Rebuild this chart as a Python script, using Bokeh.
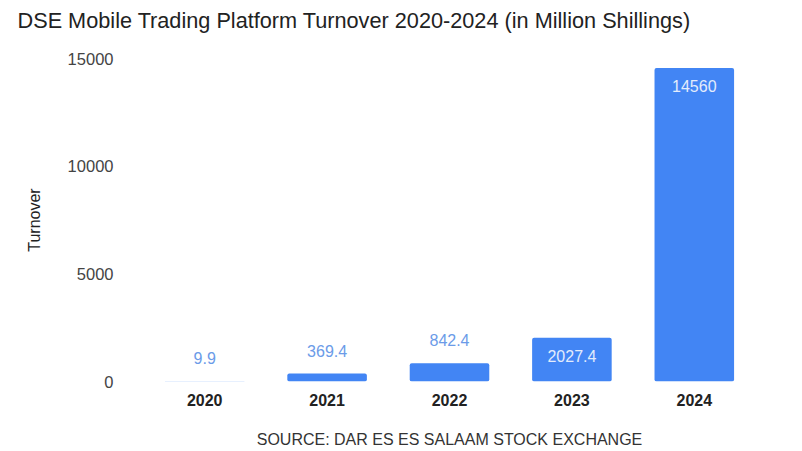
from bokeh.plotting import figure
from bokeh.models import ColumnDataSource, Title, FactorRange, Range1d, FixedTicker
from bokeh.core.properties import value
from bokeh.embed import file_html
from bokeh.resources import INLINE

years = ["2020", "2021", "2022", "2023", "2024"]
turnover = [9.9, 369.4, 842.4, 2027.4, 14560]
labels = ["9.9", "369.4", "842.4", "2027.4", "14560"]
y_ticks = [0, 5000, 10000, 15000]
title_text = "DSE Mobile Trading Platform Turnover 2020-2024 (in Million Shillings)"
source_text = "SOURCE: DAR ES ES SALAAM STOCK EXCHANGE"

FONT = "Liberation Sans"

p = figure(x_range=FactorRange(*years, range_padding=0), y_range=Range1d(y_ticks[0], y_ticks[-1]),
           width=800, height=450, output_backend="svg", toolbar_location=None,
           title_location=None,
           min_border_left=143, min_border_right=45, min_border_top=58, min_border_bottom=69)
p.outline_line_color = None
p.xgrid.grid_line_color = None
p.ygrid.grid_line_color = None

src = ColumnDataSource(dict(x=years, top=turnover, label=labels))
p.vbar(x="x", top="top", width=0.65, source=src, fill_color="#4285f4",
       line_color=None, border_radius=2)

inside = [i for i, v in enumerate(turnover) if v > 1500]
outside = [i for i, v in enumerate(turnover) if v <= 1500]
src_out = ColumnDataSource(dict(x=[years[i] for i in outside], y=[turnover[i] for i in outside],
                                label=[labels[i] for i in outside]))
src_in = ColumnDataSource(dict(x=[years[i] for i in inside], y=[turnover[i] for i in inside],
                               label=[labels[i] for i in inside]))
p.text(x="x", y="y", text="label", source=src_out, text_align="center", text_baseline="bottom",
       y_offset=-17, text_font=value(FONT), text_font_size="16px", text_color="#6b9be8")
p.text(x="x", y="y", text="label", source=src_in, text_align="center", text_baseline="top",
       y_offset=12, text_font=value(FONT), text_font_size="16px", text_color="#e3ecfc")

# axes
p.yaxis.ticker = FixedTicker(ticks=y_ticks)
p.yaxis.axis_line_color = None
p.yaxis.major_tick_line_color = None
p.yaxis.minor_tick_line_color = None
p.yaxis.major_label_standoff = 24
p.yaxis.major_label_text_font = FONT
p.yaxis.major_label_text_font_size = "16.5px"
p.yaxis.major_label_text_color = "#444444"
p.yaxis.axis_label = "Turnover"
p.yaxis.axis_label_text_font = FONT
p.yaxis.axis_label_text_font_size = "16px"
p.yaxis.axis_label_text_font_style = "normal"
p.yaxis.axis_label_text_color = "#222222"
p.yaxis.axis_label_standoff = 22

p.xaxis.axis_line_color = None
p.xaxis.major_tick_line_color = None
p.xaxis.minor_tick_line_color = None
p.xaxis.major_label_standoff = 6
p.xaxis.major_label_text_font = FONT
p.xaxis.major_label_text_font_size = "16px"
p.xaxis.major_label_text_font_style = "bold"
p.xaxis.major_label_text_color = "#222222"
# source note as the x axis label
p.xaxis.axis_label = source_text
p.xaxis.axis_label_standoff = 22
p.xaxis.axis_label_text_font = FONT
p.xaxis.axis_label_text_font_size = "16px"
p.xaxis.axis_label_text_font_style = "normal"
p.xaxis.axis_label_text_color = "#333333"

# top: blank spacer panel (next to frame) then the title (outermost)
p.add_layout(Title(text=" ", text_font_size="10px", text_color="#ffffff", standoff=3), "above")
p.add_layout(Title(text=title_text, align="left", offset=-126, vertical_align="top",
                   standoff=15, text_font=FONT, text_font_size="21.7px",
                   text_font_style="normal", text_color="#222222"), "above")

open("out.html", "w").write(file_html(p, INLINE))
